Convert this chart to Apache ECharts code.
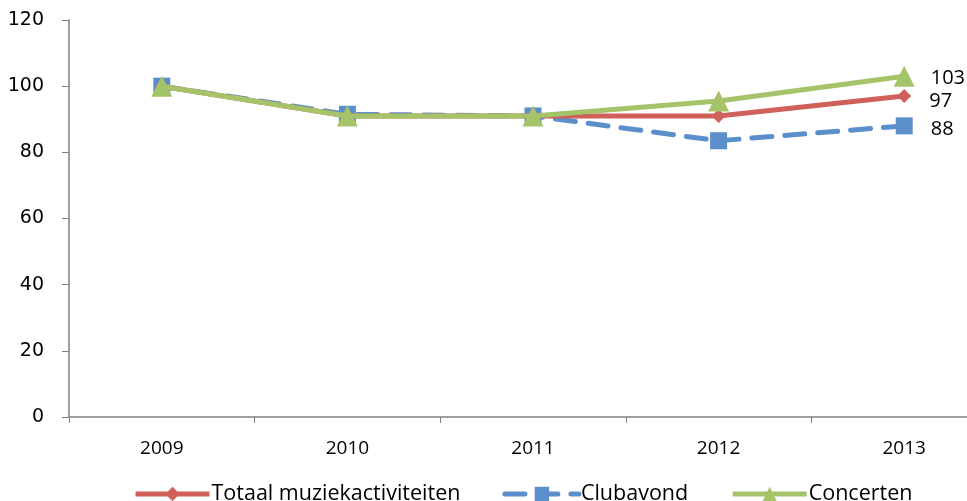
<!DOCTYPE html>
<html>
<head>
<meta charset="utf-8">
<script src="https://cdn.jsdelivr.net/npm/echarts@6/dist/echarts.min.js"></script>
<style>
  html, body { margin: 0; padding: 0; background: #fff; overflow: hidden; width: 967px; height: 501px; }
  /* the plot area runs on past the right edge of the page */
  #chart { width: 997px; height: 501px; }
</style>
</head>
<body>
<div id="chart"></div>
<script>
// Index of music activities (2009 = 100)
const years = ['2009', '2010', '2011', '2012', '2013'];
const totaal = [100, 91, 91, 91, 97];
const clubavond = [100, 91.5, 91, 83.5, 88];
const concerten = [100, 91, 91, 95.5, 103];
const yTicks = [0, 20, 40, 60, 80, 100, 120];

const seriesNames = ['Totaal muziekactiviteiten', 'Clubavond', 'Concerten'];
const colors = ['#D0605A', '#5B8FCB', '#A5C46A'];

// Only the last point carries a value label
function lastLabel(values) {
  return values.map((v, i) => i === values.length - 1
    ? { value: v, label: { show: true, formatter: String(Math.round(v)) } }
    : v);
}

const labelFont = { color: '#000', fontFamily: 'Open Sans', fontSize: 20 };

const chart = echarts.init(document.getElementById('chart'));
chart.setOption({
  animation: false,
  backgroundColor: '#ffffff',
  grid: { left: 69, right: 0, top: 20, bottom: 84, containLabel: false },
  legend: {
    bottom: -9,
    left: 128,
    itemWidth: 74,
    itemHeight: 18,
    itemGap: 42,
    lineStyle: { width: 5 },
    textStyle: { fontFamily: 'Open Sans', fontSize: 21.5, color: '#000', padding: [0, 0, 0, -3] },
    data: seriesNames
  },
  xAxis: {
    type: 'category',
    data: years,
    boundaryGap: true,
    axisLine: { lineStyle: { color: '#808080', width: 1.5 } },
    axisTick: { show: true, length: 6, inside: false, lineStyle: { color: '#808080' } },
    axisLabel: { color: '#000', fontFamily: 'Open Sans', fontSize: 19, margin: 22 },
    splitLine: { show: false }
  },
  yAxis: {
    type: 'value',
    min: yTicks[0],
    max: yTicks[yTicks.length - 1],
    interval: 20,
    axisLine: { show: true, lineStyle: { color: '#808080', width: 1.5 } },
    axisTick: { show: true, length: 7, lineStyle: { color: '#808080' } },
    axisLabel: { color: '#000', fontFamily: 'DejaVu Sans', fontSize: 19, margin: 25 },
    splitLine: { show: false }
  },
  series: [
    {
      name: seriesNames[1],
      type: 'line',
      data: lastLabel(clubavond),
      color: colors[1],
      symbol: 'rect',
      symbolSize: 17,
      lineStyle: { width: 5, type: [20, 13], cap: 'round' },
      label: Object.assign({ position: 'right', distance: 18, offset: [0, 3] }, labelFont),
      z: 2
    },
    {
      name: seriesNames[0],
      type: 'line',
      data: lastLabel(totaal),
      color: colors[0],
      symbol: 'diamond',
      symbolSize: 14,
      lineStyle: { width: 5 },
      label: Object.assign({ position: 'right', distance: 18, offset: [0, 5] }, labelFont),
      z: 3
    },
    {
      name: seriesNames[2],
      type: 'line',
      data: lastLabel(concerten),
      color: colors[2],
      symbol: 'triangle',
      symbolSize: 21,
      lineStyle: { width: 5 },
      label: Object.assign({ position: 'right', distance: 16, offset: [0, 2] }, labelFont),
      z: 4
    }
  ]
});
</script>
</body>
</html>
